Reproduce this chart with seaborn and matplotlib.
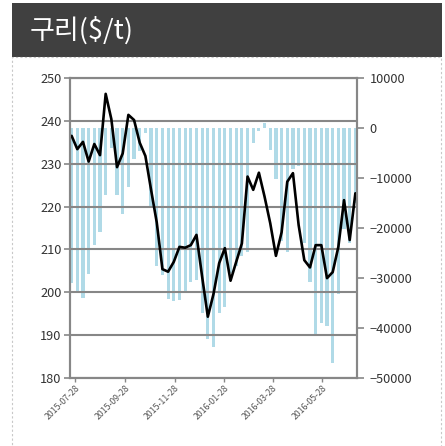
import numpy as np
import pandas as pd
import matplotlib
matplotlib.use('Agg')
import matplotlib.pyplot as plt
import matplotlib.dates as mdates
from matplotlib.patches import Rectangle
import seaborn as sns

# weekly copper data
start_date = '2015-07-24'
price = [236.5, 233.4, 235.1, 230.5, 234.6, 232.0, 246.3, 240.4, 229.2, 232.4,
         241.4, 240.2, 234.9, 231.8, 223.9, 216.3, 205.4, 204.8, 207.1, 210.6,
         210.4, 211.0, 213.4, 203.6, 194.3, 199.6, 206.8, 210.3, 202.7, 207.1,
         211.4, 227.0, 223.9, 227.9, 222.3, 216.1, 208.5, 214.0, 225.8, 227.8,
         215.7, 207.5, 205.8, 211.0, 211.0, 203.3, 204.7, 210.6, 221.5, 212.2,
         223.1]
position = [-31000, -32700, -34000, -29200, -23400, -20700, -13400, -4000, -13400, -17200,
            -11700, -6200, -4600, -900, -16000, -27600, -29400, -34100, -34500, -34400,
            -33000, -30700, -30400, -37000, -42200, -43700, -37000, -35800, -29000, -27600,
            -25500, -24700, -3000, -500, 1000, -4400, -10200, -22500, -24700, -8200,
            -7600, -23000, -30800, -41200, -39000, -39600, -46900, -33100, -20200, -23000,
            -15000]
tick_dates = ['2015-07-28', '2015-09-28', '2015-11-28', '2016-01-28', '2016-03-28', '2016-05-28']
title = '구리($/t)'

dates = pd.date_range(start_date, periods=len(price), freq='7D')
df = pd.DataFrame({'date': dates, 'price': price, 'position': position})

sns.set_style('white')
plt.rcParams['font.family'] = ['Noto Sans CJK KR', 'DejaVu Sans']

W, H = 445, 446
fig = plt.figure(figsize=(W / 100, H / 100), dpi=100)

# header bar + dashed frame
fig.patches.append(Rectangle((12 / W, 1 - 57 / H), 430 / W, 54 / H, transform=fig.transFigure,
                             facecolor='#404040', edgecolor='none', zorder=0))
fig.patches.append(Rectangle((12 / W, -0.01), 429 / W, 1 - 57 / H + 0.01, transform=fig.transFigure,
                             facecolor='none', edgecolor='#c8c8c8', lw=0.8, ls=(0, (2, 2)), zorder=0))
fig.text(30 / W, 1 - 31 / H, title, color='white', fontsize=19.5, va='center', ha='left')

grey = '#878787'
ax_bar = fig.add_axes([70 / W, 1 - 378 / H, 287 / W, 300 / H])
ax = ax_bar.twinx()

# bars (right axis)
ax_bar.bar(df['date'], df['position'], width=3.9, color='#b0dae7', linewidth=0)
ax_bar.set_ylim(-50000, 10000)
ax_bar.set_yticks(np.arange(-50000, 10001, 10000))
ax_bar.yaxis.tick_right()
ax_bar.tick_params(axis='y', right=True, left=False, direction='out', length=5, width=1.2,
                   color=grey, labelsize=9.2, labelcolor='#333333', pad=4)

# price line (left axis)
sns.lineplot(data=df, x='date', y='price', ax=ax, color='black', linewidth=1.9)
ax.set_ylim(180, 250)
ax.set_yticks(np.arange(180, 251, 10))
ax.yaxis.tick_left()
ax.yaxis.set_label_position('left')
ax.tick_params(axis='y', left=True, right=False, direction='out', length=4, width=1.2,
               color=grey, labelsize=9.2, labelcolor='#333333', pad=2)
ax.grid(axis='y', color=grey, linewidth=1.5)
ax.set_xlabel('')
ax.set_ylabel('')

xmin = dates[0] - pd.Timedelta(days=2)
xmax = dates[-1] + pd.Timedelta(days=2)
for a in (ax_bar, ax):
    a.set_xlim(xmin, xmax)
    for s in a.spines.values():
        s.set_color(grey)
        s.set_linewidth(1.5)

ax_bar.set_xticks(pd.to_datetime(tick_dates))
ax_bar.xaxis.set_major_formatter(mdates.DateFormatter('%Y-%m-%d'))
ax_bar.tick_params(axis='x', bottom=True, direction='out', length=3, width=1.0, color=grey,
                   labelsize=6.3, labelcolor='#555555', pad=1)
for lab in ax_bar.get_xticklabels():
    lab.set_rotation(45)
    lab.set_ha('right')
    lab.set_rotation_mode('anchor')
ax.tick_params(axis='x', bottom=False, labelbottom=False)

fig.savefig('out.png', dpi=100)
